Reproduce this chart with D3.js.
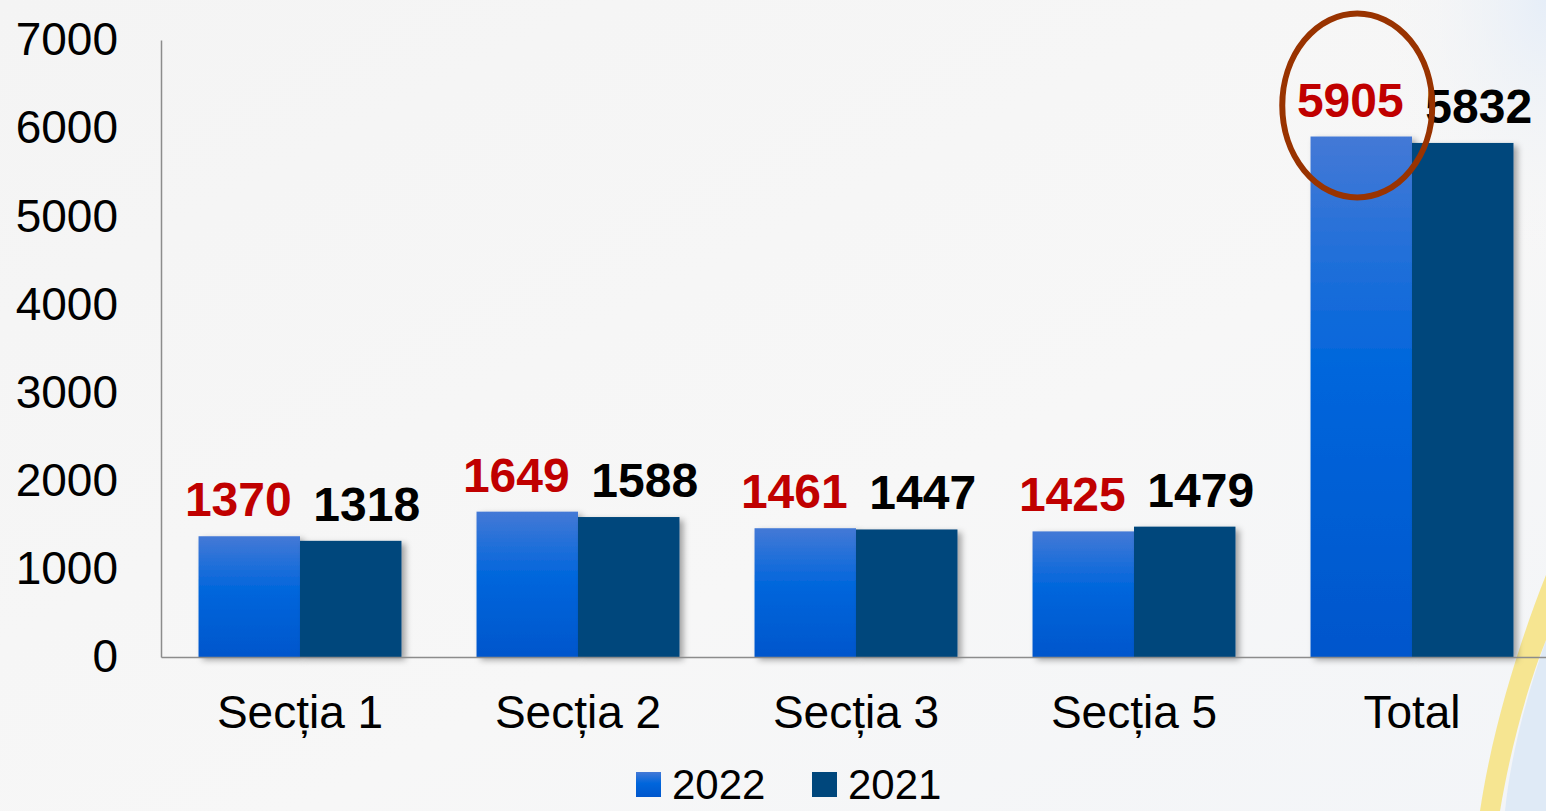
<!DOCTYPE html>
<html>
<head>
<meta charset="utf-8">
<script src="https://cdn.jsdelivr.net/npm/d3@7"></script>
<style>
  html, body { margin: 0; padding: 0; background: #f5f5f5; overflow: hidden; }
  svg { display: block; font-family: "Liberation Sans", Arial, sans-serif; }
</style>
</head>
<body>
<svg id="chart"></svg>
<script>
// chart data
const categories = ['Secția 1', 'Secția 2', 'Secția 3', 'Secția 5', 'Total'];
const series = ['2022', '2021'];
const values2022 = [1370, 1649, 1461, 1425, 5905];
const values2021 = [1318, 1588, 1447, 1479, 5832];
const yTicks = [0, 1000, 2000, 3000, 4000, 5000, 6000, 7000];
const highlight = { category: 'Total', series: '2022' }; // the circled value

const width = 1546, height = 811;
const svg = d3.select('#chart').attr('width', width).attr('height', height);

const defs = svg.append('defs');

// page background
const bg = defs.append('linearGradient').attr('id', 'bg').attr('x1', 0).attr('y1', 0).attr('x2', 1).attr('y2', 1);
bg.append('stop').attr('offset', '0%').attr('stop-color', '#f4f4f4');
bg.append('stop').attr('offset', '60%').attr('stop-color', '#f7f7f7');
bg.append('stop').attr('offset', '100%').attr('stop-color', '#f3f5f8');
svg.append('rect').attr('width', width).attr('height', height).attr('fill', 'url(#bg)');

// faint blue corner at the top right
const corner = defs.append('radialGradient').attr('id', 'corner').attr('cx', 1).attr('cy', 0).attr('r', 1);
corner.append('stop').attr('offset', '0%').attr('stop-color', '#e6eef8');
corner.append('stop').attr('offset', '100%').attr('stop-color', '#f5f5f5').attr('stop-opacity', 0);
svg.append('rect').attr('x', 1380).attr('y', 0).attr('width', 166).attr('height', 260).attr('fill', 'url(#corner)');

// swoosh decoration bottom right
svg.append('path')
  .attr('d', 'M1546,640 C1525,700 1510,760 1505,811 L1546,811 Z')
  .attr('fill', '#dfeaf6');
svg.append('path')
  .attr('d', 'M1546,575 C1520,640 1492,730 1480,811 L1500,811 C1512,740 1530,680 1546,640 Z')
  .attr('fill', '#f6e27f').attr('opacity', 0.85);

// bar fills
const grad = defs.append('linearGradient').attr('id', 'g2022').attr('x1', 0).attr('y1', 0).attr('x2', 0).attr('y2', 1);
grad.append('stop').attr('offset', '0%').attr('stop-color', '#4479d6');
grad.append('stop').attr('offset', '45%').attr('stop-color', '#0066dc');
grad.append('stop').attr('offset', '100%').attr('stop-color', '#0056cc');

const shadow = defs.append('filter').attr('id', 'shadow')
  .attr('x', '-10%').attr('y', '-10%').attr('width', '130%').attr('height', '130%');
shadow.append('feDropShadow').attr('dx', 4).attr('dy', 3).attr('stdDeviation', 3)
  .attr('flood-color', '#000').attr('flood-opacity', 0.35);

const colors = { '2022': 'url(#g2022)', '2021': '#00477c' };
const labelColors = { '2022': '#c00000', '2021': '#000000' };
const labelShift = { '2022': -11, '2021': 16 };

const x = d3.scaleBand().domain(categories).range([161, 1551]).paddingInner(0.27).paddingOuter(0.135);
const xs = d3.scaleBand().domain(series).range([0, x.bandwidth()]);
const y = d3.scaleLinear().domain([0, 7000]).range([657, 40]);

const rows = categories.map((c, i) => ({
  category: c,
  items: [
    { series: '2022', value: values2022[i] },
    { series: '2021', value: values2021[i] }
  ]
}));

// bars
const groups = svg.append('g').selectAll('g')
  .data(rows).enter().append('g')
  .attr('transform', d => `translate(${x(d.category)},0)`);

groups.selectAll('rect')
  .data(d => d.items).enter().append('rect')
  .attr('x', d => xs(d.series))
  .attr('y', d => y(d.value))
  .attr('width', xs.bandwidth())
  .attr('height', d => y(0) - y(d.value))
  .attr('fill', d => colors[d.series])
  .attr('filter', 'url(#shadow)');

groups.selectAll('text')
  .data(d => d.items).enter().append('text')
  .attr('x', d => xs(d.series) + xs.bandwidth() / 2 + labelShift[d.series])
  .attr('y', d => y(d.value) - 20)
  .attr('text-anchor', 'middle')
  .attr('font-size', 48)
  .attr('font-weight', 'bold')
  .attr('fill', d => labelColors[d.series])
  .text(d => d.value);

// axes
const yAxis = svg.append('g').attr('transform', 'translate(161,0)')
  .call(d3.axisLeft(y).tickValues(yTicks).tickSize(0).tickPadding(43).tickFormat(d3.format('d')));
yAxis.select('.domain').attr('stroke', '#8c8c8c').attr('stroke-width', 1.5);
yAxis.selectAll('text').attr('font-size', 46).attr('fill', '#000').attr('font-family', '"Liberation Sans", Arial, sans-serif');

const xAxis = svg.append('g').attr('transform', 'translate(0,657)')
  .call(d3.axisBottom(x).tickSize(0).tickPadding(38));
xAxis.select('.domain').attr('stroke', '#8c8c8c').attr('stroke-width', 1.5);
xAxis.selectAll('text').attr('font-size', 46).attr('fill', '#000').attr('font-family', '"Liberation Sans", Arial, sans-serif');

// circle around the highlighted label
const hiValue = values2022[categories.indexOf(highlight.category)];
svg.append('ellipse')
  .attr('cx', x(highlight.category) + xs(highlight.series) + xs.bandwidth() / 2 - 4)
  .attr('cy', y(hiValue) - 31)
  .attr('rx', 75)
  .attr('ry', 92)
  .attr('fill', 'none')
  .attr('stroke', '#993300')
  .attr('stroke-width', 6);

// legend
const legend = svg.append('g').attr('transform', 'translate(636,772)');
const legendItems = legend.selectAll('g').data(series).enter().append('g')
  .attr('transform', (d, i) => `translate(${i * 176},0)`);
legendItems.append('rect')
  .attr('width', 25).attr('height', 25)
  .attr('fill', d => colors[d]);
legendItems.append('text')
  .attr('x', 36).attr('y', 27)
  .attr('font-size', 42)
  .attr('fill', '#000')
  .text(d => d);
</script>
</body>
</html>
